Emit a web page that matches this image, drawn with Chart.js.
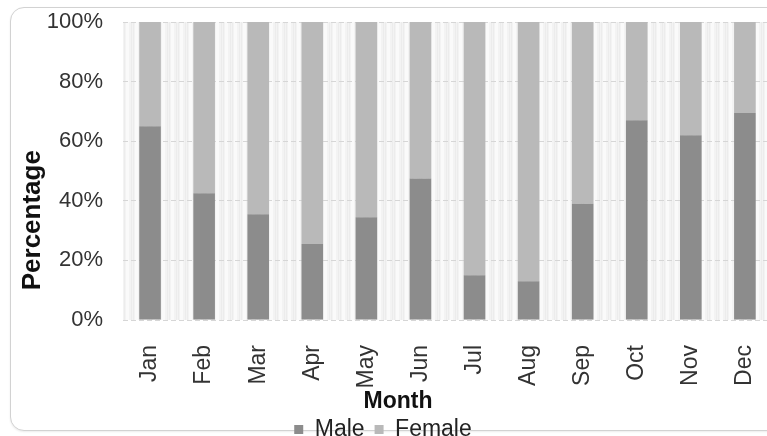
<!DOCTYPE html>
<html>
<head>
<meta charset="utf-8">
<script src="https://cdn.jsdelivr.net/npm/chart.js@4/dist/chart.umd.min.js"></script>
<style>
  html, body { margin: 0; padding: 0; background: #ffffff; overflow: hidden; width: 767px; height: 436px; }
  #frame {
    position: absolute; left: 10px; top: 7px; width: 800px; height: 422px;
    border: 1.5px solid #d2d2d2; border-radius: 14px; background: #ffffff;
    box-shadow: 0 1px 2px rgba(0,0,0,0.08);
  }
  #wrap { position: absolute; left: 0; top: 0; width: 790px; height: 436px; }
</style>
</head>
<body>
<div id="frame"></div>
<div id="wrap"><canvas id="chart" width="790" height="436"></canvas></div>
<script>
// Monthly gender split, percent of each month
const months = ['Jan', 'Feb', 'Mar', 'Apr', 'May', 'Jun', 'Jul', 'Aug', 'Sep', 'Oct', 'Nov', 'Dec'];
const maleShare = [65, 42.5, 35.5, 25.5, 34.5, 47.5, 15, 13, 39, 67, 62, 69.5];
const femaleShare = [35, 57.5, 64.5, 74.5, 65.5, 52.5, 85, 87, 61, 33, 38, 30.5];
const percentTicks = [0, 20, 40, 60, 80, 100];
const yAxisTitle = 'Percentage';

const FONT = "'Liberation Sans', Arial, sans-serif";

// light striped fill behind the bars
function stripePattern(ctx) {
  const tile = document.createElement('canvas');
  tile.width = 9; tile.height = 4;
  const t = tile.getContext('2d');
  t.fillStyle = '#f3f3f3';
  t.fillRect(0, 0, 9, 4);
  t.fillStyle = '#fafafa';
  t.fillRect(0, 0, 3, 4);
  t.fillStyle = '#ececec';
  t.fillRect(5, 0, 1, 4);
  t.fillRect(7, 0, 1, 4);
  return ctx.createPattern(tile, 'repeat');
}

const plotBackground = {
  id: 'plotBackground',
  beforeDraw(chart) {
    const { ctx, chartArea: a } = chart;
    ctx.save();
    ctx.fillStyle = stripePattern(ctx);
    ctx.fillRect(a.left, a.top, a.right - a.left, a.bottom - a.top);
    ctx.restore();
  }
};

// vertical axis title, set a little below the middle of the value axis
const valueAxisTitle = {
  id: 'valueAxisTitle',
  afterDraw(chart) {
    const { ctx, chartArea: a } = chart;
    ctx.save();
    ctx.translate(a.left - 90, a.top + (a.bottom - a.top) * 0.665);
    ctx.rotate(-Math.PI / 2);
    ctx.font = "bold 26px " + FONT;
    ctx.fillStyle = '#111111';
    ctx.textAlign = 'center';
    ctx.textBaseline = 'middle';
    ctx.fillText(yAxisTitle, 0, 0);
    ctx.restore();
  }
};

// legend sits slightly left of the canvas centre
const legendShift = {
  id: 'legendShift',
  afterLayout(chart) {
    const lg = chart.legend;
    if (lg) { lg.left -= 15; lg.right -= 15; }
  }
};

new Chart(document.getElementById('chart'), {
  type: 'bar',
  data: {
    labels: months,
    datasets: [
      { label: 'Male', data: maleShare, backgroundColor: '#8c8c8c' },
      { label: 'Female', data: femaleShare, backgroundColor: '#b9b9b9' }
    ]
  },
  plugins: [plotBackground, valueAxisTitle, legendShift],
  options: {
    responsive: false,
    animation: false,
    events: [],
    layout: { padding: { left: 18, right: 12, top: 22, bottom: -15 } },
    datasets: { bar: { categoryPercentage: 0.8, barPercentage: 0.5 } },
    scales: {
      x: {
        stacked: true,
        grid: { display: false },
        border: { display: false },
        afterFit(scale) { scale.height = 68; },
        ticks: {
          minRotation: 90, maxRotation: 90, padding: 17,
          color: '#333333', font: { family: FONT, size: 23 }
        }
      },
      y: {
        stacked: true,
        min: 0, max: 100,
        afterFit(scale) {
          scale.width = 105;
          scale.paddingTop = 0;
          scale.paddingBottom = 0;
        },
        afterBuildTicks(scale) { scale.ticks = percentTicks.map(v => ({ value: v })); },
        grid: { color: '#d6d6d6', drawTicks: false },
        border: { display: false, dash: [5, 3] },
        ticks: {
          padding: 20, color: '#333333',
          font: { family: FONT, size: 22 },
          callback: v => v + '%'
        }
      }
    },
    plugins: {
      tooltip: { enabled: false },
      title: {
        display: true, text: 'Month', position: 'bottom', weight: 500,
        color: '#111111', font: { family: FONT, size: 23, weight: 'bold', lineHeight: 1.0 },
        padding: { top: 2, bottom: -5 }
      },
      legend: {
        position: 'bottom',
        labels: {
          boxWidth: 9, boxHeight: 9, padding: 10,
          color: '#222222', font: { family: FONT, size: 23, lineHeight: 1.0 }
        }
      }
    }
  }
});
</script>
</body>
</html>
